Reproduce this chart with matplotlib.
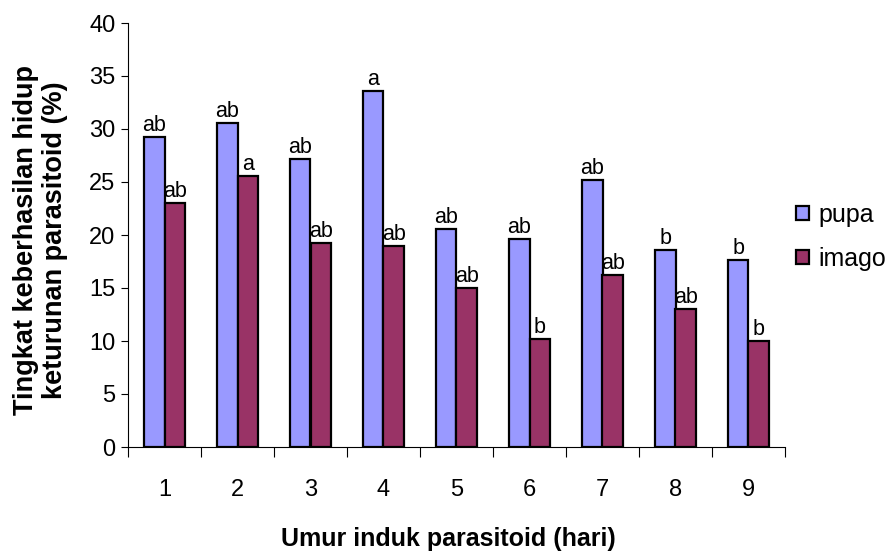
import matplotlib.pyplot as plt
import numpy as np

plt.rcParams['font.family'] = ['Liberation Sans', 'DejaVu Sans']

# data
umur = ['1', '2', '3', '4', '5', '6', '7', '8', '9']
pupa = [29.2, 30.6, 27.2, 33.6, 20.6, 19.6, 25.2, 18.6, 17.6]
imago = [23.0, 25.6, 19.2, 19.0, 15.0, 10.2, 16.2, 13.0, 10.0]
huruf_pupa = ['ab', 'ab', 'ab', 'a', 'ab', 'ab', 'ab', 'b', 'b']
huruf_imago = ['ab', 'a', 'ab', 'ab', 'ab', 'b', 'ab', 'ab', 'b']

fig = plt.figure(figsize=(8.85, 5.51), dpi=100)
ax = fig.add_axes([128 / 885, 1 - 447 / 551, 657 / 885, 424 / 551])

x = np.arange(len(umur))
w = 0.28
ax.bar(x - w / 2, pupa, w, color='#9999ff', edgecolor='black', linewidth=1.6, label='pupa')
ax.bar(x + w / 2, imago, w, color='#993366', edgecolor='black', linewidth=1.6, label='imago')

for i in range(len(umur)):
	ax.text(x[i] - w / 2, pupa[i] + 0.1, huruf_pupa[i], ha='center', va='bottom', fontsize=15.5)
	ax.text(x[i] + w / 2, imago[i] + 0.1, huruf_imago[i], ha='center', va='bottom', fontsize=15.5)

ax.set_xlim(-0.5, len(umur) - 0.5)
ax.set_ylim(0, 40)
ax.set_yticks(range(0, 41, 5))
ax.tick_params(axis='y', labelsize=17, length=5, direction='out', pad=4)

# tick garis di antara kelompok, label di tengah
ax.set_xticks(np.arange(-0.5, len(umur)), minor=False)
ax.set_xticklabels([])
ax.set_xticks(x, minor=True)
ax.set_xticklabels(umur, minor=True)
ax.tick_params(axis='x', which='major', length=7, direction='out')
ax.tick_params(axis='x', which='minor', length=0, labelsize=17, pad=23)

ax.spines['top'].set_visible(False)
ax.spines['right'].set_visible(False)

fig.text(448 / 885, 1 - 546 / 551, 'Umur induk parasitoid (hari)', ha='center', va='baseline',
	fontsize=18, fontweight='bold')
fig.text(41 / 885, 1 - 240 / 551, 'Tingkat keberhasilan hidup\nketurunan parasitoid (%)',
	ha='center', va='center', rotation=90, fontsize=19.5, fontweight='bold',
	multialignment='center', linespacing=1.15)

fig.legend(loc='center left', bbox_to_anchor=(796 / 885, 1 - 237 / 551), frameon=False,
	fontsize=18, handlelength=0.5, handleheight=0.5, handletextpad=0.4, labelspacing=0.8,
	borderpad=0, borderaxespad=0)

plt.savefig('out.png', dpi=100)
